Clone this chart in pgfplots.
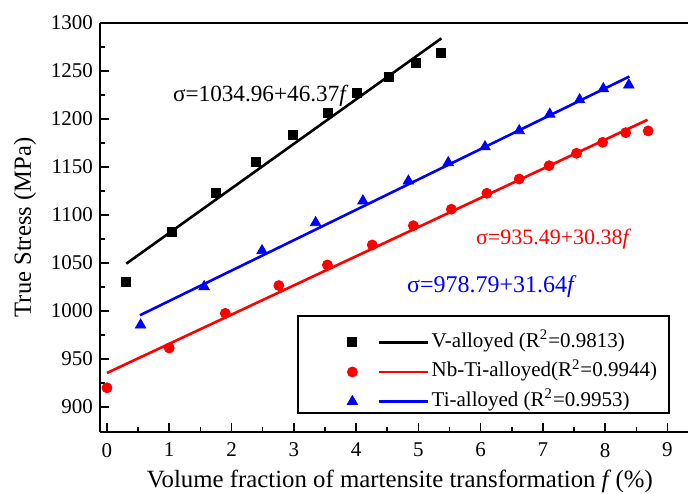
\documentclass[border=0pt]{standalone}
\usepackage{fontspec}
\setmainfont{Liberation Serif}
\usepackage{pgfplots}
\pgfplotsset{compat=1.18}
\begin{document}
\begin{tikzpicture}
\begin{axis}[
  scale only axis, width=294pt, height=204.5pt,
  xmin=-0.112, xmax=9.33, ymin=874, ymax=1300,
  axis x line*=box, axis y line*=left,
  xtick={0,1,...,9}, ytick={900,950,...,1300},
  minor x tick num=1, minor y tick num=1,
  xtick pos=bottom, ytick pos=left,
  tick align=inside,
  major tick length=4.5pt, minor tick length=2.5pt,
  axis line style={line width=0.75pt},
  every tick/.style={line width=0.75pt, black},
  /pgf/number format/assume math mode=true,
  /pgf/number format/1000 sep={},
  tick label style={font=\fontsize{10.5}{12}\selectfont},
  xticklabel style={yshift=-2pt},
  xlabel={Volume fraction of martensite transformation \textit{f}\,(\%)},
  ylabel={True Stress (MPa)},
  every axis x label/.style={at={(rel axis cs:0.51,0)}, yshift=-24.5pt, anchor=center, font=\fontsize{12.4}{14}\selectfont},
  every axis y label/.style={at={(rel axis cs:0,0.5)}, xshift=-37.5pt, rotate=90, anchor=center, font=\fontsize{12.3}{14}\selectfont},
  clip=false,
  legend cell align=left,
  legend style={at={(0.3367,0.0372)}, anchor=south west, draw=none, fill=none,
    inner sep=0pt, font=\fontsize{10.5}{12}\selectfont,
    nodes={inner xsep=1pt, inner ysep=2.4pt, text height=7.5pt, text depth=2.5pt},
    column sep=0pt, row sep=0pt},
]
% V-alloyed
\addplot[only marks, mark=square*, mark size=2.25pt, black, forget plot] coordinates {
 (0.305,1030.5) (1.05,1082.6) (1.75,1123) (2.39,1155.5) (2.98,1183.6)
 (3.54,1206.6) (4.01,1226.8) (4.52,1244) (4.96,1258.7) (5.36,1269)};
\addplot[black, line width=1.3pt, forget plot] coordinates {(0.31,1049.3) (5.37,1284.0)};
% Nb-Ti-alloyed
\addplot[only marks, mark=*, mark size=2.5pt, red, forget plot] coordinates {
 (0,920) (1.0,961.5) (1.9,997.6) (2.76,1026.5) (3.54,1048) (4.26,1068.8)
 (4.92,1088.9) (5.53,1106) (6.1,1122.6) (6.62,1137.5) (7.1,1151.4)
 (7.54,1164.3) (7.96,1175.7) (8.33,1185.8) (8.69,1187.6)};
\addplot[red, line width=1.3pt, forget plot] coordinates {(0,935.5) (8.68,1199.2)};
% Ti-alloyed
\addplot[only marks, mark=triangle*, mark size=3pt, blue, forget plot] coordinates {
 (0.54,985.4) (1.56,1025.4) (2.49,1062.8) (3.35,1092) (4.11,1114.6)
 (4.84,1135.4) (5.48,1154.5) (6.07,1171) (6.62,1187.8) (7.11,1205)
 (7.59,1220) (7.97,1231.5) (8.38,1235.4)};
\addplot[blue, line width=1.3pt, forget plot] coordinates {(0.53,995.6) (8.39,1244.3)};

\addlegendimage{legend image code/.code={
  \path[draw=none] (0pt,0pt) -- (65pt,0pt);
  \draw[black] plot[only marks, mark=square*, mark size=2.25pt] coordinates {(27pt,0pt)};
  \draw[black, line width=1.3pt] (40.5pt,0pt) -- (65pt,0pt);}}
\addlegendentry{V-alloyed (R\textsuperscript{2}=0.9813)}
\addlegendimage{legend image code/.code={
  \path[draw=none] (0pt,0pt) -- (65pt,0pt);
  \draw[red] plot[only marks, mark=*, mark size=2.5pt] coordinates {(27pt,0pt)};
  \draw[red, line width=1.3pt] (40.5pt,0pt) -- (65pt,0pt);}}
\addlegendentry{Nb-Ti-alloyed(R\textsuperscript{2}=0.9944)}
\addlegendimage{legend image code/.code={
  \path[draw=none] (0pt,0pt) -- (65pt,0pt);
  \draw[blue] plot[only marks, mark=triangle*, mark size=3pt] coordinates {(27pt,0pt)};
  \draw[blue, line width=1.3pt] (40.5pt,0pt) -- (65pt,0pt);}}
\addlegendentry{Ti-alloyed (R\textsuperscript{2}=0.9953)}

\draw[line width=0.6pt] (rel axis cs:0.3367,0.0465) rectangle (rel axis cs:0.9677,0.2836);

\node[anchor=west, inner sep=0pt, font=\fontsize{11.6}{13}\selectfont] at (axis cs:1.055,1224) {σ=1034.96+46.37\textit{f}};
\node[anchor=west, inner sep=0pt, red, font=\fontsize{11}{13}\selectfont] at (axis cs:5.92,1075) {σ=935.49+30.38\textit{f}};
\node[anchor=west, inner sep=0pt, blue, font=\fontsize{12}{14}\selectfont] at (axis cs:4.815,1025) {σ=978.79+31.64\textit{f}};

\coordinate (sw) at (rel axis cs:0,0);
\coordinate (ne) at (rel axis cs:1,1);
\end{axis}
\pgfresetboundingbox
\path[use as bounding box] ([xshift=-50pt,yshift=-31pt]sw) rectangle ([yshift=11.5pt]ne);
\end{tikzpicture}
\end{document}
